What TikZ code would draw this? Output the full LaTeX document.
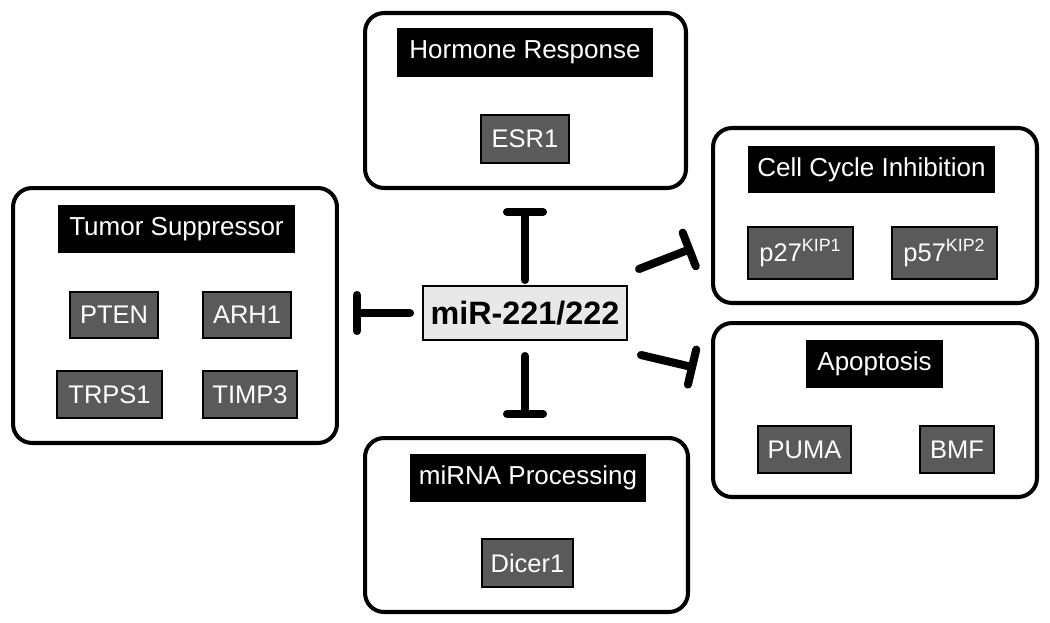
\documentclass[tikz,border=0pt]{standalone}
\usepackage{fontspec}
\setmainfont{Liberation Sans}
\usetikzlibrary{arrows.meta}
\definecolor{genegray}{HTML}{5A5A5A}
\definecolor{centergray}{HTML}{E8E8E8}
\tikzset{
  group/.style={draw=black, line width=2.3pt, rounded corners=0.38cm, fill=white, inner sep=0pt},
  title/.style={fill=black, text=white, inner sep=0pt, font=\fontsize{14.8}{17}\selectfont},
  gene/.style={draw=black, line width=1.1pt, fill=genegray, text=white, inner sep=0pt, font=\fontsize{14.5}{17}\selectfont},
  center/.style={draw=black, line width=1.4pt, fill=centergray, inner sep=0pt, font=\bfseries\fontsize{18.4}{21}\selectfont},
  inh/.style={line width=4.6pt, line cap=round, -{Bar[width=0.72cm, round]}}
}
\begin{document}
\begin{tikzpicture}[x=0.02cm, y=-0.02cm]
\useasboundingbox (0,0) rectangle (1050,622);
% groups
\node[group, minimum width=6.42cm, minimum height=3.5cm] (hr) at (525.5,100.5) {};
\node[group, minimum width=6.48cm, minimum height=5.1cm] (ts) at (175,315.5) {};
\node[group, minimum width=6.48cm, minimum height=3.5cm] (cc) at (875,215.5) {};
\node[group, minimum width=6.48cm, minimum height=3.48cm] (ap) at (875,410) {};
\node[group, minimum width=6.46cm, minimum height=3.48cm] (mp) at (526.5,525) {};
% titles
\node[title, minimum width=5.12cm, minimum height=0.98cm] (hrt) at (525,52.5) {Hormone Response};
\node[title, minimum width=4.74cm, minimum height=0.96cm] (tst) at (176.5,229) {Tumor Suppressor};
\node[title, minimum width=4.94cm, minimum height=0.94cm] (cct) at (871.5,169.5) {Cell Cycle Inhibition};
\node[title, minimum width=2.74cm, minimum height=0.96cm] (apt) at (874.5,364) {Apoptosis};
\node[title, minimum width=4.72cm, minimum height=0.96cm] (mpt) at (528,478) {miRNA Processing};
% genes
\node[gene, minimum width=1.76cm, minimum height=0.96cm] (esr) at (525,139) {ESR1};
\node[gene, minimum width=1.76cm, minimum height=0.92cm] (pten) at (114,315) {PTEN};
\node[gene, minimum width=1.76cm, minimum height=0.92cm] (arh) at (247,315) {ARH1};
\node[gene, minimum width=2.1cm, minimum height=0.94cm] (trps) at (109.5,394.5) {TRPS1};
\node[gene, minimum width=1.88cm, minimum height=0.94cm] (timp) at (250,394.5) {TIMP3};
\node[gene, minimum width=2.1cm, minimum height=1.04cm] (p27) at (800.5,253) {p27\textsuperscript{KIP1}};
\node[gene, minimum width=2.1cm, minimum height=1.04cm] (p57) at (944.5,253) {p57\textsuperscript{KIP2}};
\node[gene, minimum width=1.86cm, minimum height=0.94cm] (puma) at (804.5,449.5) {PUMA};
\node[gene, minimum width=1.48cm, minimum height=0.94cm] (bmf) at (957,449.5) {BMF};
\node[gene, minimum width=1.82cm, minimum height=0.96cm] (dicer) at (527.5,563) {Dicer1};
% center
\node[center, minimum width=4.08cm, minimum height=1.08cm] (mir) at (525,313) {miR-221/222};
% connector end points
\coordinate (su) at (525,280);  \coordinate (eu) at (525,208);
\coordinate (sl) at (410,313);  \coordinate (el) at (353,313);
\coordinate (sd) at (525,356);  \coordinate (ed) at (525,418);
\coordinate (sur) at (639,269); \coordinate (eur) at (693,248);
\coordinate (slr) at (641,355); \coordinate (elr) at (696,368);
\draw[inh] (su) -- (eu);
\draw[inh] (sl) -- (el);
\draw[inh] (sd) -- (ed);
\draw[inh] (sur) -- (eur);
\draw[inh] (slr) -- (elr);
\end{tikzpicture}
\end{document}
